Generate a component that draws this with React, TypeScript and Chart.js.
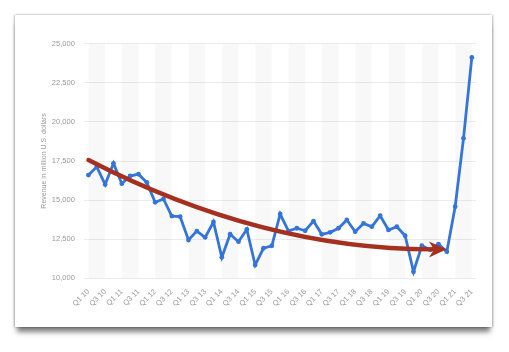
import React, { useEffect, useRef } from "react";
import { Chart, registerables } from "chart.js";

Chart.register(...registerables);

const LABELS = [
  "Q1 10", "Q2 10", "Q3 10", "Q4 10",
  "Q1 11", "Q2 11", "Q3 11", "Q4 11",
  "Q1 12", "Q2 12", "Q3 12", "Q4 12",
  "Q1 13", "Q2 13", "Q3 13", "Q4 13",
  "Q1 14", "Q2 14", "Q3 14", "Q4 14",
  "Q1 15", "Q2 15", "Q3 15", "Q4 15",
  "Q1 16", "Q2 16", "Q3 16", "Q4 16",
  "Q1 17", "Q2 17", "Q3 17", "Q4 17",
  "Q1 18", "Q2 18", "Q3 18", "Q4 18",
  "Q1 19", "Q2 19", "Q3 19", "Q4 19",
  "Q1 20", "Q2 20", "Q3 20", "Q4 20",
  "Q1 21", "Q2 21", "Q3 21",
];

const REVENUE = [
  16600, 17130, 16000, 17350,
  16050, 16540, 16660, 16130,
  14860, 15070, 13980, 13940,
  12450, 13020, 12620, 13600,
  11340, 12820, 12340, 13130,
  10850, 11920, 12080, 14110,
  13020, 13200, 13040, 13660,
  12810, 12940, 13200, 13730,
  12980, 13510, 13300, 14000,
  13090, 13300, 12720, 10420,
  12080, 11820, 12190, 11700,
  14580, 18950, 24120,
];

const Y_MIN = 10000;
const Y_MAX = 25000;
const Y_STEP = 2500;

// Trend arrow in data space: start, control, tip (category index, value)
const ARROW_START = { x: 0, y: 17560 };
const ARROW_CONTROL = { x: 21, y: 11800 };
const ARROW_TIP = { x: 43, y: 11850 };

const BLUE = "#3574d8";
const RED = "#a6301f";
const TEXT = "#9a9a9a";
const FONT = "'Liberation Sans', Arial, sans-serif";

const bandsPlugin = {
  id: "bands",
  beforeDatasetsDraw(chart: any) {
    const { ctx, chartArea, scales } = chart;
    const xs = scales.x;
    ctx.save();
    ctx.fillStyle = "rgba(0,0,0,0.028)";
    for (let i = 0; i + 2 <= LABELS.length - 1; i += 4) {
      const a = xs.getPixelForValue(i);
      const b = xs.getPixelForValue(i + 2);
      ctx.fillRect(a, chartArea.top, b - a, chartArea.bottom - chartArea.top);
    }
    ctx.restore();
  },
};

const arrowPlugin = {
  id: "trendArrow",
  afterDatasetsDraw(chart: any) {
    const { ctx, scales } = chart;
    const xs = scales.x;
    const ys = scales.y;
    const p0 = { x: xs.getPixelForValue(ARROW_START.x), y: ys.getPixelForValue(ARROW_START.y) };
    const p1 = { x: xs.getPixelForValue(ARROW_CONTROL.x), y: ys.getPixelForValue(ARROW_CONTROL.y) };
    const p2 = { x: xs.getPixelForValue(ARROW_TIP.x), y: ys.getPixelForValue(ARROW_TIP.y) };
    let dx = p2.x - p1.x;
    let dy = p2.y - p1.y;
    const len = Math.hypot(dx, dy) || 1;
    dx /= len;
    dy /= len;
    const headLen = 18;
    const halfW = 8;
    const shaftEnd = { x: p2.x - dx * headLen * 0.6, y: p2.y - dy * headLen * 0.6 };
    ctx.save();
    ctx.strokeStyle = RED;
    ctx.lineWidth = 4.4;
    ctx.lineCap = "round";
    ctx.beginPath();
    ctx.moveTo(p0.x, p0.y);
    ctx.quadraticCurveTo(p1.x, p1.y, shaftEnd.x, shaftEnd.y);
    ctx.stroke();
    const bx = p2.x - dx * headLen;
    const by = p2.y - dy * headLen;
    const nx = -dy;
    const ny = dx;
    ctx.fillStyle = RED;
    ctx.beginPath();
    ctx.moveTo(p2.x, p2.y);
    ctx.lineTo(bx + nx * halfW, by + ny * halfW);
    ctx.lineTo(p2.x - dx * headLen * 0.7, p2.y - dy * headLen * 0.7);
    ctx.lineTo(bx - nx * halfW, by - ny * halfW);
    ctx.closePath();
    ctx.fill();
    ctx.restore();
  },
};

export default function App() {
  const canvasRef = useRef<HTMLCanvasElement | null>(null);

  useEffect(() => {
    if (!canvasRef.current) return;
    const chart = new Chart(canvasRef.current, {
      type: "line",
      data: {
        labels: LABELS,
        datasets: [
          {
            data: REVENUE,
            borderColor: BLUE,
            backgroundColor: BLUE,
            borderWidth: 2.8,
            pointRadius: 2.4,
            pointBackgroundColor: BLUE,
            pointBorderWidth: 0,
            tension: 0,
          },
        ],
      },
      options: {
        animation: false,
        responsive: false,
        maintainAspectRatio: false,
        layout: { padding: { top: 28.7, right: 16, left: 0, bottom: 0 } },
        plugins: {
          legend: { display: false },
          tooltip: { enabled: false },
        },
        scales: {
          x: {
            type: "category",
            offset: true,
            grid: { display: false, drawTicks: false },
            border: { display: false },
            ticks: {
              autoSkip: false,
              maxRotation: 45,
              minRotation: 45,
              padding: 9,
              color: TEXT,
              font: { family: FONT, size: 7.5 },
              callback: (_v: any, i: number) => (i % 2 === 0 ? LABELS[i] : ""),
            },
            afterFit: (s: any) => {
              s.height = 48.7;
            },
          },
          y: {
            min: Y_MIN,
            max: Y_MAX,
            grid: { color: "#ececec", lineWidth: 1, drawTicks: false },
            border: { display: false },
            ticks: {
              stepSize: Y_STEP,
              padding: 9.5,
              color: TEXT,
              font: { family: FONT, size: 7.5 },
              callback: (v: any) => Number(v).toLocaleString("en-US"),
            },
            title: {
              display: true,
              text: "Revenue in million U.S. dollars",
              color: TEXT,
              font: { family: FONT, size: 7 },
              padding: { top: 25, bottom: 0 },
            },
            afterFit: (s: any) => {
              s.width = 69.3;
            },
          },
        },
      },
      plugins: [bandsPlugin, arrowPlugin],
    });
    return () => chart.destroy();
  }, []);

  return (
    <div
      style={{
        position: "absolute",
        left: 0,
        top: 0,
        width: 509,
        height: 352,
        background: "#ffffff",
        overflow: "hidden",
      }}
    >
      <div
        style={{
          position: "absolute",
          left: 15,
          top: 15,
          width: 477,
          height: 312,
          background: "#ffffff",
          boxShadow:
            "0 7px 5px -2px rgba(0,0,0,0.5), -1px 0 2px rgba(0,0,0,0.25), 1px 0 2px rgba(0,0,0,0.25)",
        }}
      >
        <canvas ref={canvasRef} width={477} height={312} style={{ display: "block" }} />
      </div>
    </div>
  );
}
